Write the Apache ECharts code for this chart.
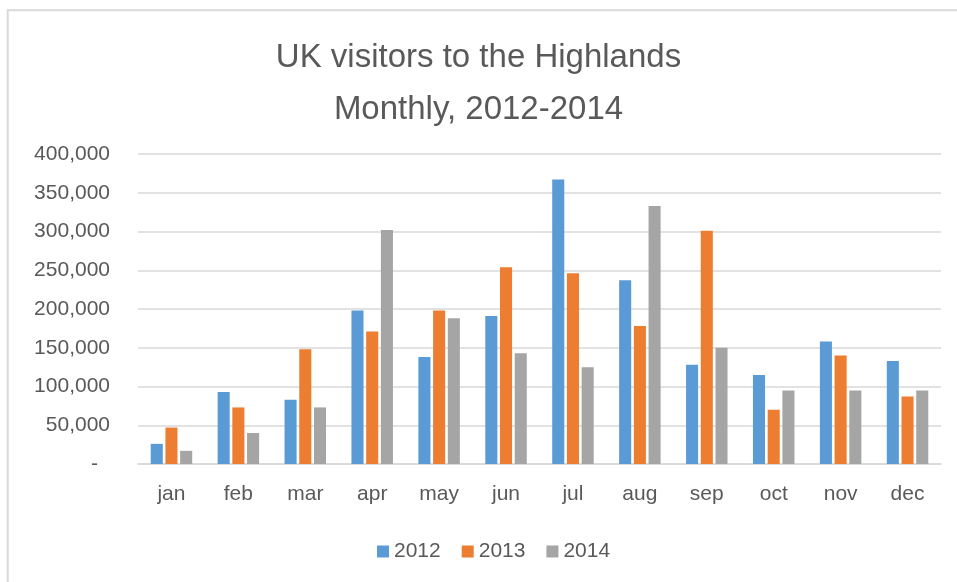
<!DOCTYPE html>
<html>
<head>
<meta charset="utf-8">
<script src="https://cdn.jsdelivr.net/npm/echarts@6/dist/echarts.min.js"></script>
<style>
  html, body { margin: 0; padding: 0; background: #fff; }
  #chart { width: 957px; height: 582px; }
</style>
</head>
<body>
<div id="chart"></div>
<script>
// Monthly UK visitor counts to the Highlands, by year
const months = ['jan', 'feb', 'mar', 'apr', 'may', 'jun', 'jul', 'aug', 'sep', 'oct', 'nov', 'dec'];
const years = ['2012', '2013', '2014'];
const visitors2012 = [26000, 93000, 83000, 198000, 138000, 191000, 367000, 237000, 128000, 115000, 158000, 133000];
const visitors2013 = [47000, 73000, 148000, 171000, 198000, 254000, 246000, 178000, 301000, 70000, 140000, 87000];
const visitors2014 = [17000, 40000, 73000, 302000, 188000, 143000, 125000, 333000, 150000, 95000, 95000, 95000];
const yTicks = [0, 50000, 100000, 150000, 200000, 250000, 300000, 350000, 400000];

const seriesValues = [visitors2012, visitors2013, visitors2014];
const palette = ['#5B9BD5', '#ED7D31', '#A5A5A5'];
const font = 'Liberation Sans';
const textGray = '#595959';
const lineGray = '#D9D9D9';

const chart = echarts.init(document.getElementById('chart'), null, { renderer: 'canvas' });

chart.setOption({
  backgroundColor: '#ffffff',
  animation: false,
  color: palette,
  graphic: [{
    type: 'rect',
    shape: { x: 7.7, y: 10.3, width: 980, height: 620 },
    style: { fill: 'none', stroke: lineGray, lineWidth: 2 },
    silent: true
  }],
  title: {
    text: 'UK visitors to the Highlands\nMonthly, 2012-2014',
    left: 'center',
    top: 27,
    textStyle: {
      fontFamily: font,
      fontSize: 33,
      fontWeight: 'normal',
      color: textGray,
      lineHeight: 52
    }
  },
  legend: {
    data: years,
    left: 372,
    top: 536,
    itemWidth: 12,
    itemHeight: 12,
    itemGap: 21,
    icon: 'rect',
    textStyle: { fontFamily: font, fontSize: 21, color: textGray }
  },
  grid: { left: 138, right: 16, top: 154, bottom: 118, containLabel: false },
  xAxis: {
    type: 'category',
    data: months,
    axisLine: { show: true, lineStyle: { color: lineGray, width: 1.6 } },
    axisTick: { show: false },
    axisLabel: { fontFamily: font, fontSize: 21, color: textGray, margin: 20 }
  },
  yAxis: {
    type: 'value',
    min: yTicks[0],
    max: yTicks[yTicks.length - 1],
    interval: yTicks[1] - yTicks[0],
    axisLine: { show: false },
    axisTick: { show: false },
    splitLine: { lineStyle: { color: lineGray, width: 1.6 } },
    axisLabel: {
      fontFamily: font,
      fontSize: 21,
      color: textGray,
      margin: 28,
      formatter: function (v) {
        return v === 0 ? '{z|-}' : v.toLocaleString('en-US');
      },
      rich: {
        z: { fontFamily: font, fontSize: 21, color: textGray, padding: [0, 12, 0, 0] }
      }
    }
  },
  series: years.map(function (y, i) {
    return {
      name: y,
      type: 'bar',
      data: seriesValues[i],
      barGap: '22%',
      barCategoryGap: '38%',
      itemStyle: { color: palette[i] }
    };
  })
});
</script>
</body>
</html>
